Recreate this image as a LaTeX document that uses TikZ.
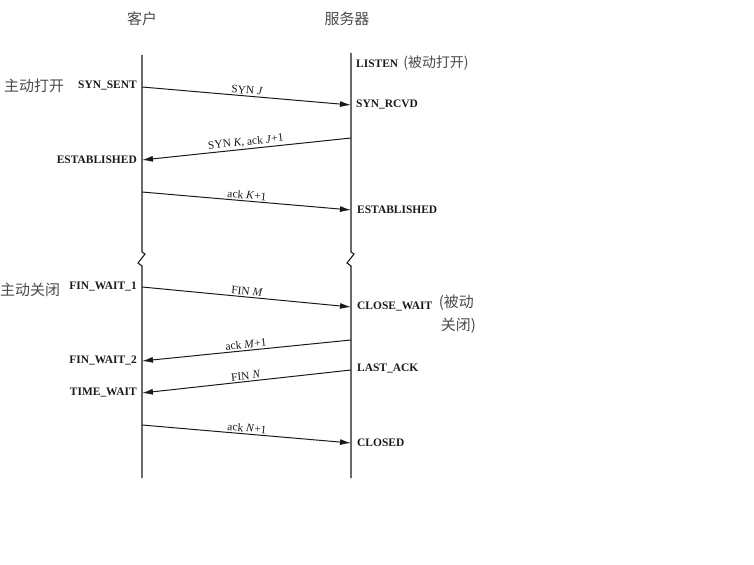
\documentclass[tikz,border=0pt]{standalone}
\usepackage{fontspec}
\setmainfont{Liberation Serif}
\newfontfamily\cjk{Noto Sans CJK SC}
\usetikzlibrary{arrows.meta}
\definecolor{ink}{HTML}{1A1A1A}
\definecolor{cn}{HTML}{4A4A4A}
\tikzset{
  life/.style={draw=ink, line width=1.1pt},
  msg/.style={draw=ink, line width=1pt, -{Latex[length=11pt,width=6pt]}},
  mlabel/.style={font=\fontsize{11.5}{13}\selectfont, text=ink, inner sep=1.5pt, above, sloped, midway},
  stateL/.style={font=\bfseries\fontsize{11.5}{13}\selectfont, text=ink, anchor=east, inner sep=0pt},
  stateR/.style={font=\bfseries\fontsize{11.5}{13}\selectfont, text=ink, anchor=west, inner sep=0pt},
  cnlabel/.style={font=\cjk\fontsize{15}{18}\selectfont, text=cn, inner sep=0pt},
}
\begin{document}
\begin{tikzpicture}[x=1bp,y=-1bp]
\useasboundingbox (0,0) rectangle (754,565);
% headers
\node[cnlabel] (hc) at (142,19) {客户};
\node[cnlabel] (hs) at (347,19) {服务器};
% lifelines
\coordinate (c0) at (142,55);
\coordinate (cb1) at (142,252);
\coordinate (cb2) at (142,267);
\coordinate (c1) at (142,478);
\coordinate (s0) at (351,53);
\coordinate (sb1) at (351,252);
\coordinate (sb2) at (351,267);
\coordinate (s1) at (351,478);
\draw[life] (c0) -- (cb1) -- ++(3,2) -- ++(-7,9) -- ++(4,3) -- (cb2) -- (c1);
\draw[life] (s0) -- (sb1) -- ++(3,2) -- ++(-7,9) -- ++(4,3) -- (sb2) -- (s1);
% message endpoints
\coordinate (m1a) at (142,87);  \coordinate (m1b) at (351,105);
\coordinate (m2a) at (351,138); \coordinate (m2b) at (142,160);
\coordinate (m3a) at (142,192); \coordinate (m3b) at (351,210);
\coordinate (m4a) at (142,287); \coordinate (m4b) at (351,307);
\coordinate (m5a) at (351,340); \coordinate (m5b) at (142,361);
\coordinate (m6a) at (351,370); \coordinate (m6b) at (142,393);
\coordinate (m7a) at (142,425); \coordinate (m7b) at (351,443);
\draw[msg] (m1a) -- node[mlabel] {SYN \textit{J}} (m1b);
\draw[msg] (m2a) -- node[mlabel] {SYN \textit{K}, ack \textit{J}+1} (m2b);
\draw[msg] (m3a) -- node[mlabel] {ack \textit{K}+1} (m3b);
\draw[msg] (m4a) -- node[mlabel] {FIN \textit{M}} (m4b);
\draw[msg] (m5a) -- node[mlabel] {ack \textit{M}+1} (m5b);
\draw[msg] (m6a) -- node[mlabel] {FIN \textit{N}} (m6b);
\draw[msg] (m7a) -- node[mlabel] {ack \textit{N}+1} (m7b);
% client states
\node[stateL] (cs1) at (137,86) {SYN\_SENT};
\node[cnlabel, anchor=west] (ao) at (4,86) {主动打开};
\node[stateL] (cs2) at (137,160) {ESTABLISHED};
\node[stateL] (cs3) at (137,287) {FIN\_WAIT\_1};
\node[cnlabel, anchor=west] (ac) at (0,290) {主动关闭};
\node[stateL] (cs4) at (137,361) {FIN\_WAIT\_2};
\node[stateL] (cs5) at (137,393) {TIME\_WAIT};
% server states
\node[stateR] (ss1) at (356,63) {LISTEN {\mdseries\cjk\fontsize{14}{16}\selectfont\color{cn}\,(被动打开)}};
\node[stateR] (ss2) at (356,105) {SYN\_RCVD};
\node[stateR] (ss3) at (357,210) {ESTABLISHED};
\node[stateR] (ss4) at (357,307) {CLOSE\_WAIT};
\node[cnlabel, anchor=east] (pc1) at (474,303) {(被动};
\node[cnlabel, anchor=east] (pc2) at (476,326) {关闭)};
\node[stateR] (ss5) at (357,369) {LAST\_ACK};
\node[stateR] (ss6) at (357,443) {CLOSED};
\end{tikzpicture}
\end{document}
